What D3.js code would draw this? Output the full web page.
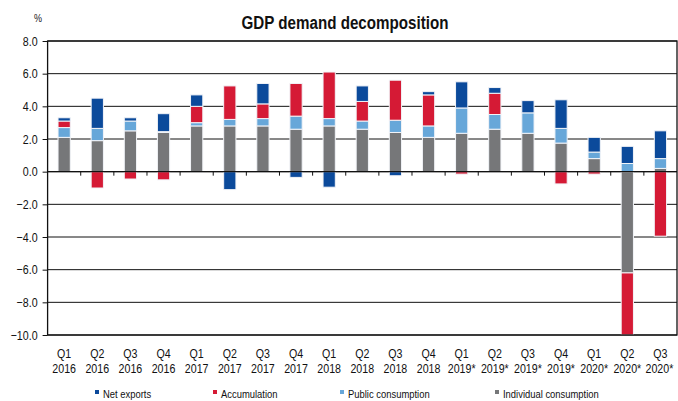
<!DOCTYPE html>
<html>
<head>
<meta charset="utf-8">
<script src="https://cdn.jsdelivr.net/npm/d3@7"></script>
<style>
  body { margin: 0; background: #fff; }
  svg { display: block; font-family: "Liberation Sans", Arial, sans-serif; }
</style>
</head>
<body>
<div id="chart"></div>
<script>
(() => {
  const quarters = ['Q1', 'Q2', 'Q3', 'Q4', 'Q1', 'Q2', 'Q3', 'Q4', 'Q1', 'Q2', 'Q3', 'Q4', 'Q1', 'Q2', 'Q3', 'Q4', 'Q1', 'Q2', 'Q3'];
  const years = ['2016', '2016', '2016', '2016', '2017', '2017', '2017', '2017', '2018', '2018', '2018', '2018',
    '2019*', '2019*', '2019*', '2019*', '2020*', '2020*', '2020*'];

  const individualConsumption = [2.1, 1.9, 2.5, 2.4, 2.8, 2.8, 2.8, 2.6, 2.8, 2.6, 2.4, 2.1, 2.35, 2.6, 2.35, 1.75, 0.8, -6.2, 0.2];
  const publicConsumption = [0.6, 0.75, 0.6, 0.05, 0.2, 0.4, 0.45, 0.8, 0.45, 0.5, 0.75, 0.7, 1.55, 0.9, 1.25, 0.9, 0.4, 0.5, 0.6];
  const accumulation = [0.4, -1.0, -0.45, -0.5, 1.0, 2.05, 0.9, 2.0, 2.85, 1.2, 2.45, 1.9, -0.15, 1.3, 0, -0.75, -0.15, -3.8, -3.95];
  const netExports = [0.2, 1.85, 0.2, 1.1, 0.7, -1.1, 1.25, -0.35, -0.95, 0.95, -0.25, 0.2, 1.6, 0.35, 0.75, 1.75, 0.9, 1.05, 1.7];

  const yTicks = [-10, -8, -6, -4, -2, 0, 2, 4, 6, 8];

  const series = [
    { key: 'individual', name: 'Individual consumption', color: '#767779', values: individualConsumption },
    { key: 'public', name: 'Public consumption', color: '#67a7d9', values: publicConsumption },
    { key: 'accumulation', name: 'Accumulation', color: '#d51a35', values: accumulation },
    { key: 'net', name: 'Net exports', color: '#0b4a9b', values: netExports }
  ];

  const width = 678, height = 401;
  const margin = { top: 41, right: 1, bottom: 66, left: 47.6 };
  const squeeze = 0.82; // no narrow font installed, so squash the text horizontally

  const rows = quarters.map((q, i) => {
    const row = { id: i, q, year: years[i] };
    series.forEach(s => { row[s.key] = s.values[i]; });
    return row;
  });

  const svg = d3.select('#chart')
    .append('svg')
    .attr('width', width)
    .attr('height', height);

  const x = d3.scaleBand()
    .domain(rows.map(d => d.id))
    .range([margin.left, width - margin.right])
    .padding(0);

  const y = d3.scaleLinear()
    .domain([-10, 8])
    .range([height - margin.bottom, margin.top]);

  // gridlines
  svg.append('g')
    .selectAll('line')
    .data(yTicks)
    .join('line')
    .attr('x1', margin.left)
    .attr('x2', width - margin.right)
    .attr('y1', d => y(d))
    .attr('y2', d => y(d))
    .attr('stroke', '#111')
    .attr('stroke-width', 1);

  const stack = d3.stack()
    .keys(series.map(s => s.key))
    .offset(d3.stackOffsetDiverging);

  const stacked = stack(rows);
  const barW = x.bandwidth() * 0.37;

  const clipId = 'plotClip';
  svg.append('clipPath').attr('id', clipId)
    .append('rect')
    .attr('x', margin.left)
    .attr('y', margin.top)
    .attr('width', width - margin.right - margin.left)
    .attr('height', y(-10) - y(8));

  svg.append('g')
    .attr('clip-path', `url(#${clipId})`)
    .selectAll('g')
    .data(stacked)
    .join('g')
    .attr('fill', (d, i) => series[i].color)
    .selectAll('rect')
    .data(d => d.filter(p => p[1] - p[0] !== 0))
    .join('rect')
    .attr('x', d => x(d.data.id) + (x.bandwidth() - barW) / 2)
    .attr('width', barW)
    .attr('y', d => y(Math.max(d[0], d[1])))
    .attr('height', d => Math.abs(y(d[0]) - y(d[1])))
    .attr('stroke', '#f2f4f8')
    .attr('stroke-width', 1);

  // zero line with category ticks
  const zero = y(0);
  svg.append('line')
    .attr('x1', margin.left).attr('x2', width - margin.right)
    .attr('y1', zero).attr('y2', zero)
    .attr('stroke', '#111').attr('stroke-width', 1.3);

  svg.append('g')
    .selectAll('line')
    .data(rows.slice(1))
    .join('line')
    .attr('x1', d => x(d.id))
    .attr('x2', d => x(d.id))
    .attr('y1', zero)
    .attr('y2', zero + 4)
    .attr('stroke', '#111');

  // frame
  svg.append('rect')
    .attr('x', margin.left)
    .attr('y', margin.top)
    .attr('width', width - margin.right - margin.left)
    .attr('height', y(-10) - y(8))
    .attr('fill', 'none')
    .attr('stroke', '#111')
    .attr('stroke-width', 1.3);

  // y axis
  const yAxis = d3.axisLeft(y)
    .tickValues(yTicks)
    .tickSize(5)
    .tickPadding(5)
    .tickFormat(d3.format('.1f'));

  svg.append('g')
    .attr('transform', `translate(${margin.left}, 0)`)
    .call(yAxis)
    .call(g => g.select('.domain').remove())
    .call(g => g.selectAll('line').attr('stroke', '#111'))
    .call(g => g.selectAll('text')
      .attr('class', 'narrow')
      .attr('font-size', 13)
      .attr('fill', '#111')
      .style('font-family', 'inherit'));

  // x labels, two lines
  const cx = d => x(d.id) + x.bandwidth() / 2;
  const xl = svg.append('g');
  xl.selectAll('text.q')
    .data(rows)
    .join('text')
    .attr('class', 'q narrow')
    .attr('x', cx)
    .attr('y', 358)
    .attr('text-anchor', 'middle')
    .attr('font-size', 13)
    .attr('fill', '#111')
    .text(d => d.q);

  xl.selectAll('text.yr')
    .data(rows)
    .join('text')
    .attr('class', 'yr narrow')
    .attr('x', (d, i) => cx(d) - (i === rows.length - 1 ? 1 : 0))
    .attr('y', 373)
    .attr('text-anchor', 'middle')
    .attr('font-size', 13)
    .attr('fill', '#111')
    .text(d => d.year);

  // title and unit
  svg.append('text')
    .attr('class', 'narrow')
    .attr('x', 345)
    .attr('y', 29)
    .attr('text-anchor', 'middle')
    .attr('font-size', 18.5)
    .attr('font-weight', 'bold')
    .attr('fill', '#111')
    .text('GDP demand decomposition');

  svg.append('text')
    .attr('class', 'narrow')
    .attr('x', 38)
    .attr('y', 22)
    .attr('text-anchor', 'middle')
    .attr('font-size', 11)
    .attr('fill', '#222')
    .text('%');

  // legend
  const legendItems = [series[3], series[2], series[1], series[0]];
  const legendX = [97, 215, 342, 497];

  const lg = svg.append('g')
    .selectAll('g')
    .data(legendItems)
    .join('g')
    .attr('transform', (d, i) => `translate(${legendX[i]}, 398)`);

  lg.append('rect')
    .attr('x', -2).attr('y', -8)
    .attr('width', 4).attr('height', 4)
    .attr('fill', d => d.color);

  lg.append('text')
    .attr('class', 'narrow')
    .attr('x', 6)
    .attr('y', 0)
    .attr('font-size', 11.5)
    .attr('fill', '#111')
    .text(d => d.name);

  // squash every label around its anchor to look like Arial Narrow
  svg.selectAll('text.narrow').each(function () {
    const t = d3.select(this);
    const ax = +t.attr('x') || 0;
    const anchor = t.attr('text-anchor') || getComputedStyle(this).textAnchor || 'start';
    const prev = t.attr('transform') || '';
    let px = ax;
    if (anchor === 'start') px = ax;
    t.attr('transform', `${prev} translate(${px},0) scale(${squeeze},1) translate(${-px},0)`);
  });
})()
</script>
</body>
</html>
